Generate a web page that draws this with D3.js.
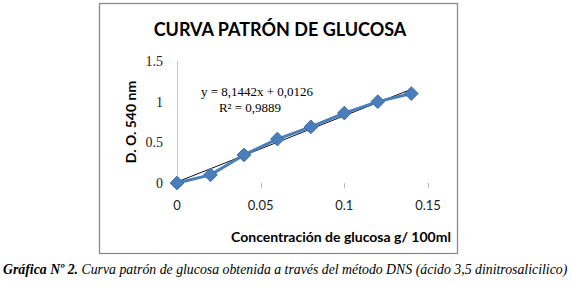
<!DOCTYPE html>
<html lang="es">
<head>
<meta charset="UTF-8">
<title>Curva patrón de glucosa</title>
<style>
  body { margin: 0; background: #fff; }
</style>
</head>
<body>
<svg width="572" height="293" id="svg"></svg>
<script src="https://d3js.org/d3.v7.min.js"></script>
<script>
// datos
const concentraciones = [0, 0.02, 0.04, 0.06, 0.08, 0.1, 0.12, 0.14]
const absorbancias = [0, 0.1, 0.345, 0.54, 0.69, 0.86, 1.0, 1.1]
const xTicks = [0, 0.05, 0.1, 0.15]
const yTicks = [0, 0.5, 1, 1.5]
const pendiente = 8.1442
const intercepto = 0.0126

const svg = d3.select("svg#svg")

// marco del gráfico
svg.append("rect")
    .attr("x", 99.5).attr("y", 3.5)
    .attr("width", 358).attr("height", 250)
    .attr("fill", "#fff").attr("stroke", "#8a8a8a").attr("stroke-width", 1.3)

const xScale = d3.scaleLinear().domain([0, 0.15]).range([177, 428])
const yScale = d3.scaleLinear().domain([0, 1.5]).range([183, 61])

// eje y (linea gris)
svg.append("line")
    .attr("x1", 177.5).attr("x2", 177.5)
    .attr("y1", yScale(1.5)).attr("y2", yScale(0))
    .attr("stroke", "#c8c8c8")

svg.selectAll(".ytick").data(yTicks).join("text")
    .attr("x", 163).attr("y", d => yScale(d) + 5)
    .attr("text-anchor", "end")
    .attr("font-family", "Liberation Serif, serif")
    .attr("font-size", 14)
    .attr("fill", "#222")
    .text(d => d)

// marcas eje x
svg.selectAll(".xmark").data(xTicks.slice(1)).join("line")
    .attr("x1", d => Math.round(xScale(d)) + 0.5).attr("x2", d => Math.round(xScale(d)) + 0.5)
    .attr("y1", 183).attr("y2", 188)
    .attr("stroke", "#bbb")

svg.selectAll(".xtick").data(xTicks).join("text")
    .attr("x", d => xScale(d)).attr("y", 210)
    .attr("text-anchor", "middle")
    .attr("font-family", "Lato, sans-serif")
    .attr("font-size", 13)
    .attr("fill", "#222")
    .text(d => d)

// titulo y etiquetas
svg.append("text")
    .attr("x", 280).attr("y", 36)
    .attr("text-anchor", "middle")
    .attr("font-family", "Lato, sans-serif")
    .attr("font-weight", "bold")
    .attr("font-size", 18)
    .text("CURVA PATRÓN DE GLUCOSA")

svg.append("text")
    .attr("transform", "translate(136,122) rotate(-90)")
    .attr("text-anchor", "middle")
    .attr("font-family", "Lato, sans-serif")
    .attr("font-weight", "bold")
    .attr("font-size", 14)
    .text("D. O. 540 nm")

svg.append("text")
    .attr("x", 341).attr("y", 242)
    .attr("text-anchor", "middle")
    .attr("font-family", "Lato, sans-serif")
    .attr("font-weight", "bold")
    .attr("font-size", 14)
    .text("Concentración de glucosa g/ 100ml")

// linea de tendencia
const xs = d3.extent(concentraciones)
svg.append("line")
    .attr("x1", xScale(xs[0])).attr("y1", yScale(pendiente * xs[0] + intercepto))
    .attr("x2", xScale(xs[1])).attr("y2", yScale(pendiente * xs[1] + intercepto))
    .attr("stroke", "#111").attr("stroke-width", 1)

// serie
const puntos = concentraciones.map((c, i) => ({ x: c, y: absorbancias[i] }))
const line = d3.line().x(d => xScale(d.x)).y(d => yScale(d.y))
svg.append("path").datum(puntos)
    .attr("d", line)
    .attr("fill", "none")
    .attr("stroke", "#4a7ebb")
    .attr("stroke-width", 3)
    .attr("stroke-linejoin", "round")

svg.selectAll(".punto").data(puntos).join("path")
    .attr("d", d3.symbol(d3.symbolDiamond2, 120))
    .attr("transform", d => `translate(${xScale(d.x)},${yScale(d.y)})`)
    .attr("fill", "#4a7ebb")
    .attr("stroke", "#3d6fae").attr("stroke-width", 1)

// ecuacion
svg.append("text")
    .attr("x", 257).attr("y", 96)
    .attr("text-anchor", "middle")
    .attr("font-family", "Liberation Serif, serif")
    .attr("font-size", 13)
    .text("y = 8,1442x + 0,0126")
svg.append("text")
    .attr("x", 250).attr("y", 112)
    .attr("text-anchor", "middle")
    .attr("font-family", "Liberation Serif, serif")
    .attr("font-size", 13)
    .text("R² = 0,9889")

// pie de figura
const pie = svg.append("text")
    .attr("x", 3).attr("y", 274)
    .attr("font-family", "Liberation Serif, serif")
    .attr("font-style", "italic")
    .attr("font-size", 13.8)
pie.append("tspan").attr("font-weight", "bold").text("Gráfica Nº 2.")
pie.append("tspan").text(" Curva patrón de glucosa obtenida a través del método DNS (ácido 3,5 dinitrosalicilico)")
</script>
</body>
</html>
